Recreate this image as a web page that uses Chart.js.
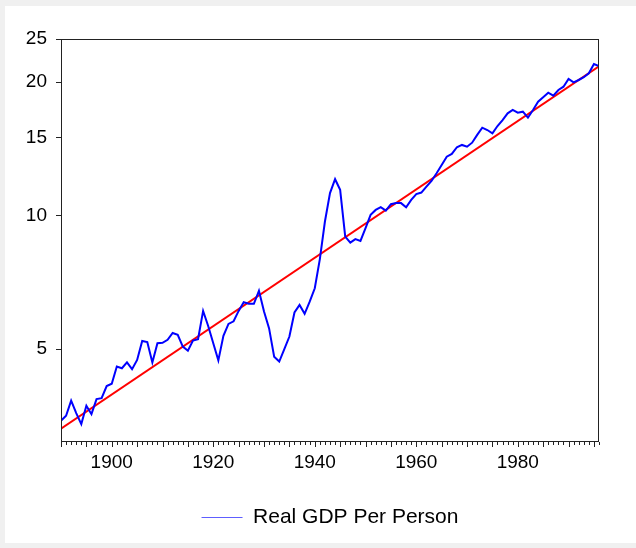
<!DOCTYPE html>
<html>
<head>
<meta charset="utf-8">
<script src="https://cdn.jsdelivr.net/npm/chart.js@4.4.1/dist/chart.umd.min.js"></script>
<style>
  html, body { margin: 0; padding: 0; background: #f0f0f0; }
  #panel { position: absolute; left: 5px; top: 6px; width: 631px; height: 537px; background: #fff; }
  #wrap { position: absolute; left: 0; top: 0; width: 636px; height: 548px; }
</style>
</head>
<body>
<div id="panel"></div>
<div id="wrap"><canvas id="gdpChart" width="636" height="548"></canvas></div>
<script>
// Data (thousands of dollars per person, log scale)
const firstYear = 1890;
const lastYear = 1996;
const gdpPerPerson = [
  3.45, 3.54, 3.83, 3.59, 3.39, 3.73, 3.57, 3.86, 3.88, 4.13,      // 1890s
  4.18, 4.57, 4.53, 4.67, 4.51, 4.73, 5.22, 5.19, 4.67, 5.16,      // 1900s
  5.17, 5.25, 5.44, 5.39, 5.07, 4.96, 5.23, 5.27, 6.10, 5.64,      // 1910s
  5.16, 4.72, 5.36, 5.70, 5.78, 6.10, 6.38, 6.33, 6.33, 6.77,      // 1920s
  6.08, 5.57, 4.81, 4.69, 5.00, 5.34, 6.05, 6.29, 6.01, 6.40,      // 1930s
  6.86, 7.98, 9.70, 11.24, 12.08, 11.43, 8.97, 8.69, 8.85, 8.77,   // 1940s
  9.37, 10.04, 10.30, 10.45, 10.26, 10.61, 10.67, 10.67, 10.44, 10.85, // 1950s
  11.18, 11.27, 11.62, 11.97, 12.46, 13.01, 13.58, 13.77, 14.26, 14.43, // 1960s
  14.30, 14.60, 15.20, 15.78, 15.59, 15.33, 15.92, 16.42, 17.00, 17.30, // 1970s
  17.06, 17.15, 16.62, 17.30, 18.06, 18.48, 18.92, 18.63, 19.19, 19.52, // 1980s
  20.32, 19.97, 20.21, 20.50, 20.93, 21.96, 21.73                  // 1990s
];
// fitted trend line, end points
const trendYears = [1890, 1996];
const trendValues = [3.31, 21.7];

const yTicks = [5, 10, 15, 20, 25];
const xLabelYears = [1900, 1920, 1940, 1960, 1980];

const gdpPoints = gdpPerPerson.map((v, i) => ({ x: firstYear + i, y: v }));
const trendPoints = trendYears.map((yr, i) => ({ x: yr, y: trendValues[i] }));

// box round the plot + a tick for every year on the bottom axis
const framePlugin = {
  id: 'frame',
  afterDraw(chart) {
    const { ctx, chartArea: a } = chart;
    const xs = chart.scales.x;
    ctx.save();
    ctx.strokeStyle = '#222';
    ctx.lineWidth = 1;
    ctx.strokeRect(Math.round(a.left) + 0.5, Math.round(a.top) + 0.5,
      Math.round(a.right - a.left) - 1, Math.round(a.bottom - a.top) - 1);
    ctx.beginPath();
    for (let yr = firstYear; yr <= lastYear; yr++) {
      const px = Math.round(xs.getPixelForValue(yr)) + 0.5;
      const len = yr % 5 === 0 ? 5 : 3;
      ctx.moveTo(px, Math.round(a.bottom));
      ctx.lineTo(px, Math.round(a.bottom) + len);
    }
    ctx.stroke();
    ctx.restore();
  }
};

const ctx = document.getElementById('gdpChart').getContext('2d');
const gdpChart = new Chart(ctx, {
  type: 'line',
  data: {
    datasets: [
      {
        label: 'Real GDP Per Person',
        data: gdpPoints,
        borderColor: '#0000ff',
        borderWidth: 2,
        pointRadius: 0,
        tension: 0,
        fill: false
      },
      {
        label: 'Trend',
        data: trendPoints,
        borderColor: '#ff0000',
        borderWidth: 2,
        pointRadius: 0,
        tension: 0,
        fill: false
      }
    ]
  },
  options: {
    responsive: false,
    animation: false,
    layout: { padding: { left: 0, right: 37, top: 39, bottom: 10 } },
    plugins: {
      tooltip: { enabled: false },
      legend: {
        position: 'bottom',
        fullSize: false,
        labels: {
          color: '#000',
          font: { family: 'Arial', size: 21 },
          boxWidth: 41,
          boxHeight: 1,
          padding: 10,
          filter: item => item.datasetIndex === 0,
          generateLabels(chart) {
            const items = Chart.defaults.plugins.legend.labels.generateLabels(chart);
            items.forEach(it => {
              // thin legend stroke, a lighter blue like the reference
              it.fillStyle = 'rgba(40, 40, 255, 0.75)';
              it.strokeStyle = it.fillStyle;
              it.lineWidth = 0;
            });
            return items;
          }
        }
      }
    },
    scales: {
      x: {
        type: 'linear',
        min: firstYear,
        max: lastYear,
        grid: { display: false, drawTicks: false },
        border: { display: false },
        ticks: {
          color: '#000',
          font: { family: 'Arial', size: 19 },
          padding: 9,
          maxRotation: 0,
          callback: v => String(v)
        },
        afterBuildTicks: s => { s.ticks = xLabelYears.map(v => ({ value: v })); },
        afterFit: s => { s.height = 55; }
      },
      y: {
        type: 'logarithmic',
        min: 3.09,
        max: 25,
        grid: { display: true, drawOnChartArea: false, tickLength: 5, color: '#222' },
        border: { display: true, color: '#222' },
        ticks: {
          color: '#000',
          font: { family: 'Arial', size: 19 },
          padding: 9,
          callback: v => String(v)
        },
        afterBuildTicks: s => { s.ticks = yTicks.map(v => ({ value: v })); },
        afterFit: s => { s.width = 61; }
      }
    }
  },
  plugins: [framePlugin]
});
</script>
</body>
</html>
